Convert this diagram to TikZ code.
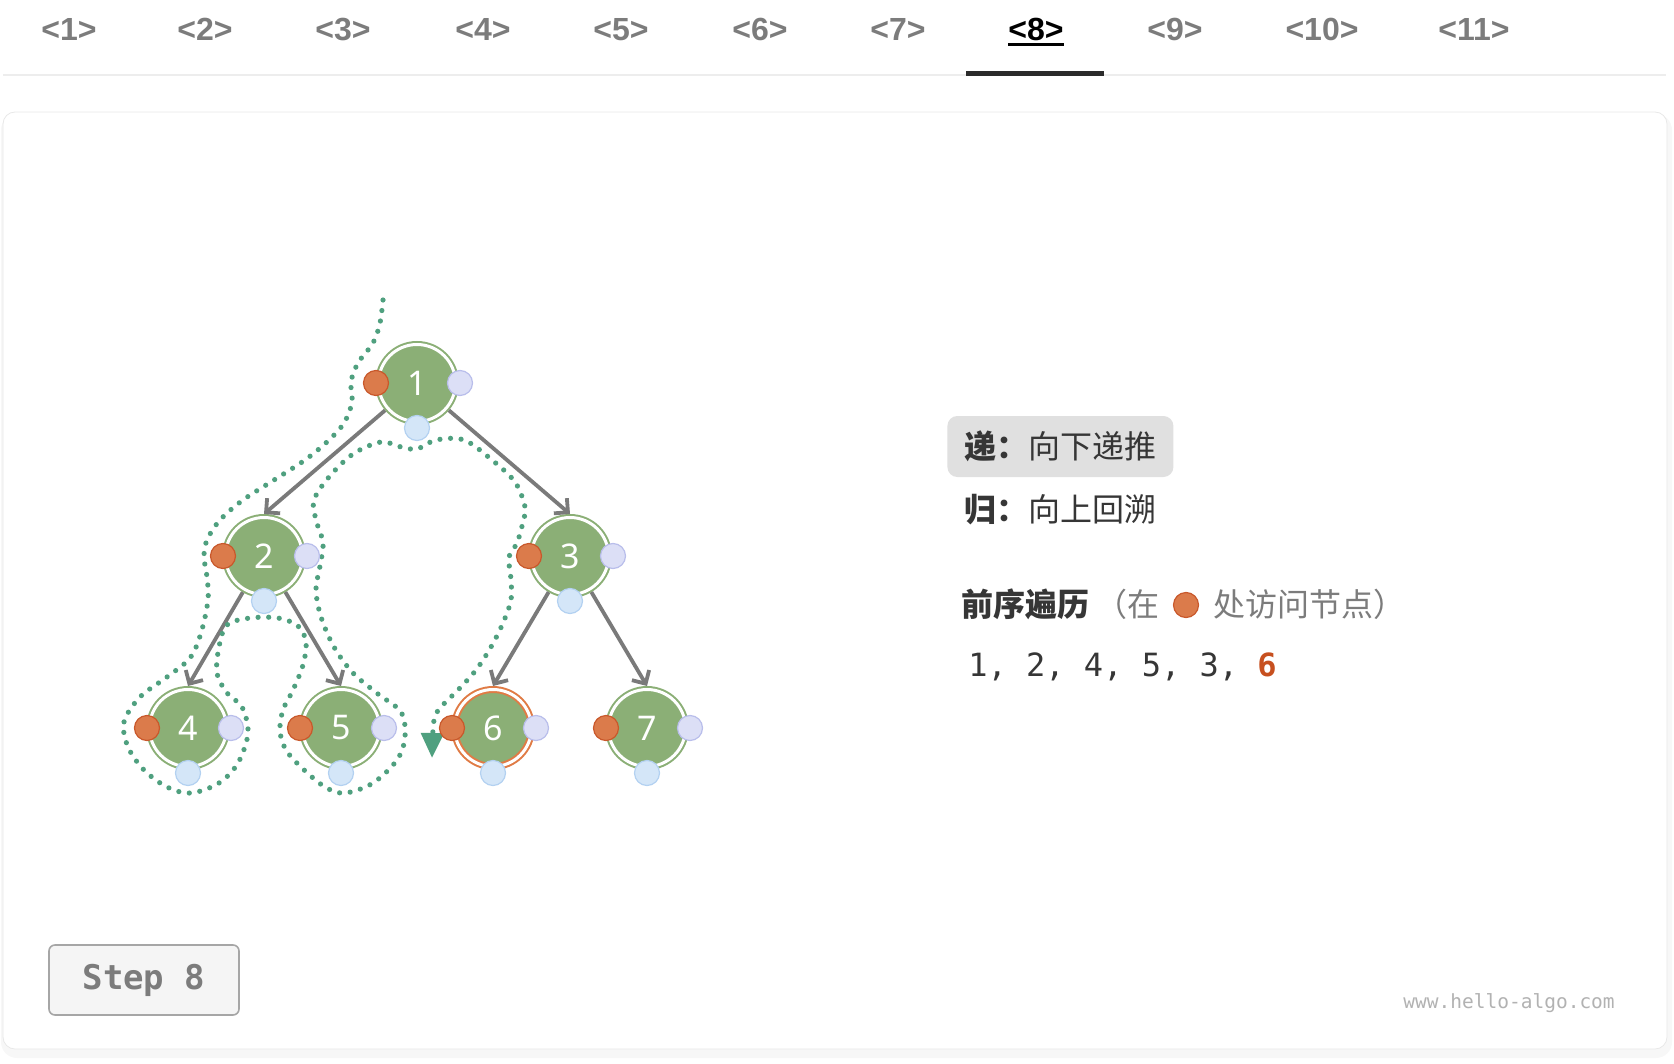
\documentclass[tikz,border=0pt]{standalone}
\usepackage{fontspec}
\setmainfont{Noto Sans}
\setmonofont{DejaVu Sans Mono}
\newfontfamily\cjk{Noto Sans CJK SC}
\newfontfamily\tabfont{Liberation Sans}
\usetikzlibrary{arrows.meta, calc}
\definecolor{trnode}{HTML}{8BAF76}
\definecolor{trorange}{HTML}{DB7B4B}
\definecolor{trorangeedge}{HTML}{C9582B}
\definecolor{trring}{HTML}{E07B45}
\definecolor{trlilac}{HTML}{DCDFF6}
\definecolor{trlilacedge}{HTML}{B9BEEB}
\definecolor{trblue}{HTML}{D4E6F8}
\definecolor{trblueedge}{HTML}{B3D1F1}
\definecolor{trpath}{HTML}{4FA07F}
\definecolor{trgray}{HTML}{7A7A7A}
\definecolor{trtext}{HTML}{363636}
\definecolor{trsoft}{HTML}{7C7C7C}
\definecolor{trrust}{HTML}{C7501F}

\begin{document}
\begin{tikzpicture}[
  x=0.5pt, y=-0.5pt,
  vert/.style={circle, fill=trnode, draw=#1, double=white, double distance=1.5pt, line width=1pt, minimum size=38.5pt, inner sep=0pt, outer sep=1.75pt, text=white, font=\fontsize{17}{20}\selectfont},
  vert/.default=trnode,
  knob/.style 2 args={circle, fill=#1, draw=#2, line width=0.6pt, minimum size=12.5pt, inner sep=0pt},
  branch/.style={-{Straight Barb[length=5pt, width=10pt]}, draw=trgray, line width=1.9pt},
  trail/.style={draw=trpath, line width=2.6pt, line cap=round, dash pattern=on 0pt off 5.3pt},
  tab/.style={anchor=base, inner sep=0pt, text=#1, font=\fontsize{16}{18}\selectfont\tabfont\bfseries},
  zh/.style={anchor=west, inner sep=0pt, text=#1, font=\fontsize{16}{19}\selectfont\cjk},
]
  \useasboundingbox (0,0) rectangle (1674,1064);

  % page card
  \fill[black, opacity=0.03, rounded corners=8pt] (1,114) rectangle (1672,1058);
  \draw[draw=black!9, fill=white, rounded corners=6pt] (3,112) rectangle (1667,1049);

  % tab bar
  \draw[draw=black!7, line width=1pt] (3,75) -- (1666,75);
  \draw[draw=trtext!80!black, line width=2.5pt] (966,74) -- (1104,74);
  \foreach \i/\x in {1/69, 2/205, 3/343, 4/483, 5/621, 6/760, 7/898, 9/1175, 10/1322, 11/1474}
    \node[tab=trsoft] (tab\i) at (\x,41) {<\i>};
  \node[tab=black] (tab8) at (1036,41) {<8>};
  \draw[line width=1.4pt] ([yshift=-1.6pt]tab8.base west) -- ([yshift=-1.6pt]tab8.base east);

  % tree
  \node[vert] (n1) at (417,383) {1};
  \node[vert] (n2) at (264,556) {2};
  \node[vert] (n3) at (570,556) {3};
  \node[vert] (n4) at (188,728) {4};
  \node[vert] (n5) at (341,728) {5};
  \node[vert=trring] (n6) at (493,728) {6};
  \node[vert] (n7) at (647,728) {7};

  \draw[branch] (n1) -- (n2.north);
  \draw[branch] (n1) -- (n3.north);
  \draw[branch] (n2) -- (n4.north);
  \draw[branch] (n2) -- (n5.north);
  \draw[branch] (n3) -- (n6.north);
  \draw[branch] (n3) -- (n7.north);

  % walk so far
  \draw[trail, -{Triangle[length=12.5pt, width=11pt]}] plot[smooth, tension=0.55] coordinates {
    (383,300) (380,323) (373,343) (358,363) (351,382) (352,402) (344,423) (328,441)
    (305,460) (274,480) (243,500) (220,520) (207,540) (204,557) (207,577) (208,600)
    (201,633) (190,658) (167,677) (140,697) (124,722) (128,747) (144,770) (167,787)
    (191,793) (219,783) (238,763) (248,733) (242,707) (227,693) (217,673) (219,647)
    (227,625) (250,618) (278,618) (298,626) (306,642) (303,665) (293,690) (283,710)
    (280,731) (286,750) (302,768) (325,787) (345,793) (373,783) (397,760) (405,737)
    (401,712) (378,694) (353,673) (334,647) (321,617) (316,590) (320,566) (323,543)
    (316,520) (314,500) (329,477) (353,454) (381,442) (401,447) (417,449) (436,440)
    (464,440) (492,460) (515,482) (525,507) (523,522) (517,543) (509,557) (511,580)
    (511,600) (503,623) (491,647) (476,670) (458,690) (442,706) (434,720) (432,758)};

  % visit points
  \foreach \n in {1,...,7} {
    \node[knob={trorange}{trorangeedge}] (pre\n) at ($(n\n)+(-41,0)$) {};
    \node[knob={trlilac}{trlilacedge}] (post\n) at ($(n\n)+(43,0)$) {};
    \node[knob={trblue}{trblueedge}] (in\n) at ($(n\n)+(0,45)$) {};
  }

  % legend
  \node[zh=trtext, fill=black!12, rounded corners=5pt, inner xsep=8.5pt, minimum height=30.5pt] (down) at (947,446.5) {\bfseries 递：\mdseries 向下递推};
  \node[zh=trtext] (up) at (964,510) {\bfseries 归：\mdseries 向上回溯};
  \node[zh=trsoft] (order) at (961,604) {\textcolor{trtext}{\bfseries 前序遍历}\hspace{3pt}（在};
  \node[knob={trorange}{trorangeedge}] (legend) at (1186,605) {};
  \node[zh=trsoft] (where) at (1213,604) {处访问节点）};
  \node[anchor=base west, inner sep=0pt, text=trtext, font=\fontsize{16}{19}\selectfont\ttfamily] (seq) at (968,676) {1, 2, 4, 5, 3, \textcolor{trrust}{\bfseries 6}};

  % footer
  \node[draw=black!35, fill=black!4, rounded corners=3pt, line width=0.8pt, minimum width=95pt, minimum height=35pt, text=trsoft, font=\fontsize{17}{20}\selectfont\ttfamily\bfseries] (stepno) at (144,980) {Step 8};
  \node[anchor=west, inner sep=0pt, text=black!30, font=\fontsize{9.75}{12}\selectfont\ttfamily] (site) at (1403,1003) {www.hello-algo.com};
\end{tikzpicture}
\end{document}
